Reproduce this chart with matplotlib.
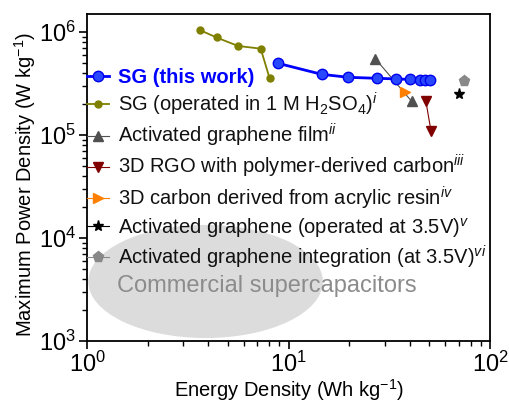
import numpy as np
import matplotlib
matplotlib.use("Agg")
import matplotlib.pyplot as plt
from matplotlib.patches import Ellipse

plt.rcParams["font.family"] = ["Liberation Sans", "DejaVu Sans"]
plt.rcParams["mathtext.fontset"] = "custom"
plt.rcParams["mathtext.rm"] = "Liberation Sans"
plt.rcParams["mathtext.it"] = "Liberation Sans:italic"
plt.rcParams["mathtext.bf"] = "Liberation Sans:bold"

# SG (this work)
sg_e = [8.83, 14.6, 19.8, 27.3, 34.2, 40.2, 45.0, 47.7, 50.5]
sg_p = [5.0e5, 3.9e5, 3.65e5, 3.57e5, 3.52e5, 3.48e5, 3.46e5, 3.44e5, 3.42e5]

# SG (operated in 1 M H2SO4)
h2so4_e = [3.63, 4.39, 5.61, 7.27, 8.05]
h2so4_p = [1.05e6, 8.9e5, 7.36e5, 6.93e5, 3.57e5]

# activated graphene film
agf_e = [26.9, 40.8]
agf_p = [5.55e5, 2.13e5]

# 3D RGO with polymer-derived carbon
rgo_e = [48.0, 50.9]
rgo_p = [2.13e5, 1.09e5]

# 3D carbon from acrylic resin
acr_e = [37.7]
acr_p = [2.6e5]

# activated graphene 3.5 V
ag35_e = [69.7]
ag35_p = [2.53e5]

# activated graphene integration
agi_e = [73.8]
agi_p = [3.36e5]

labels = [
    "SG (this work)",
    r"SG (operated in 1 M H$_2$SO$_4$)$^{\it i}$",
    r"Activated graphene film$^{\it ii}$",
    r"3D RGO with polymer-derived carbon$^{\it iii}$",
    r"3D carbon derived from acrylic resin$^{\it iv}$",
    r"Activated graphene (operated at 3.5V)$^{\it v}$",
    r"Activated graphene integration (at 3.5V)$^{\it vi}$",
]

fig = plt.figure(figsize=(5.09, 4.04), dpi=100)
ax = fig.add_axes([0.171, 0.156, 0.792, 0.809])

ell = Ellipse((0.294, 0.182), 0.582, 0.346, transform=ax.transAxes,
              facecolor="#dcdcdc", edgecolor="none", zorder=0)
ax.add_patch(ell)
ax.text(0.447, 0.169, "Commercial supercapacitors", transform=ax.transAxes,
        ha="center", va="center", fontsize=17, color="#8c8c8c", zorder=1)

ax.plot(sg_e, sg_p, "-o", color="#0000ff", mfc="#2848ff", mec="#0000ee",
        ms=7.5, lw=2.0, label=labels[0], zorder=5)
ax.plot(h2so4_e, h2so4_p, "-o", color="#7f7f00", ms=5, lw=1.3,
        label=labels[1], zorder=4)
ax.plot(agf_e, agf_p, "-^", color="#505050", mfc="#505050", lw=0.8,
        ms=7, label=labels[2], zorder=4)
ax.plot(rgo_e, rgo_p, "-v", color="#800000", lw=0.8, ms=7,
        label=labels[3], zorder=4)
ax.plot(acr_e, acr_p, "->", color="#ff8000", lw=0.8, ms=7,
        label=labels[4], zorder=4)
ax.plot(ag35_e, ag35_p, "-*", color="black", lw=0.8, ms=8,
        label=labels[5], zorder=4)
ax.plot(agi_e, agi_p, "-p", color="#888888", lw=0.8, ms=8,
        label=labels[6], zorder=4)

ax.set_xscale("log")
ax.set_yscale("log")
ax.set_xlim(1, 100)
ax.set_ylim(1e3, 1.5e6)

ax.set_xlabel(r"Energy Density (Wh kg$^{-1}$)", fontsize=14.5)
ax.set_ylabel(r"Maximum Power Density (W kg$^{-1}$)", fontsize=14.5)
ax.xaxis.set_label_coords(0.5, -0.112)
ax.yaxis.set_label_coords(-0.122, 0.48)

ax.tick_params(which="major", direction="out", length=6, width=1.2,
               labelsize=17, pad=2, top=False, right=False)
ax.tick_params(which="minor", direction="out", length=3.5, width=1.0,
               top=False, right=False)
for sp in ax.spines.values():
    sp.set_linewidth(1.3)

leg = ax.legend(loc="upper left", bbox_to_anchor=(0.0, 0.836), frameon=False,
                fontsize=14.5, numpoints=1, handlelength=1.1,
                handletextpad=0.45, labelspacing=0.2, borderaxespad=0,
                borderpad=0)
for txt in leg.get_texts():
    txt.set_color("#111111")
leg.get_texts()[0].set_color("#0000ff")
leg.get_texts()[0].set_fontweight("bold")

fig.savefig("out.png", dpi=100)
